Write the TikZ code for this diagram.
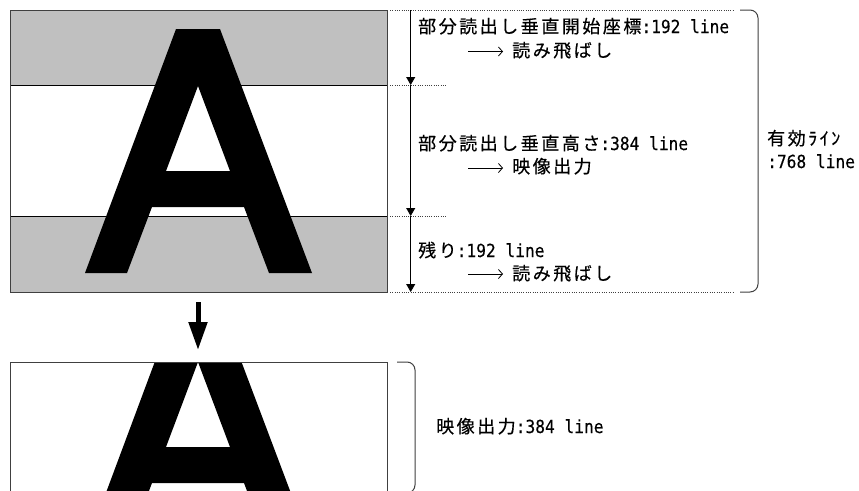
\documentclass[tikz,border=0pt]{standalone}
\usepackage{fontspec}
\usetikzlibrary{arrows.meta}
\newfontfamily\jpfont[LetterSpace=14,FakeBold=0.4]{Noto Sans CJK JP}
\newfontfamily\monofont[FakeStretch=0.9,FakeBold=0.3]{DejaVu Sans Mono}
\definecolor{bandgray}{HTML}{C0C0C0}
\definecolor{edgegray}{HTML}{404040}
\newcommand\lat[1]{{\fontsize{18}{20}\selectfont\monofont #1}}
\begin{document}
\begin{tikzpicture}[x=1pt,y=-1pt,
  lbl/.style={anchor=base west,inner sep=0pt,font=\fontsize{18}{20}\selectfont\jpfont},
  dotline/.style={draw=edgegray,line width=0.7pt,dash pattern=on 0.8pt off 1.5pt},
  vdim/.style={line width=0.8pt,-{Triangle[width=9pt,length=8pt]}},
  txtarrow/.style={line width=0.8pt,-{Straight Barb[length=4pt,width=9pt]}},
  brace/.style={draw=edgegray,line width=1pt,rounded corners=8pt},
  letterA/.style={fill=black,even odd rule}]
\useasboundingbox (0,0) rectangle (859,490);
\fill[white] (0,0) rectangle (859,490);
% top image
\fill[bandgray] (10,10) rectangle (387,85);
\fill[bandgray] (10,216) rectangle (387,292);
\fill[letterA] (85,273) -- (176,29) -- (220,29) -- (312,273) -- (269,273) -- (244,207) -- (152,207) -- (127,273) -- cycle
  (166,171) -- (198,86) -- (230,171) -- cycle;
\draw[line width=0.8pt] (10,85) -- (387,85) (10,216) -- (387,216);
\draw[edgegray,line width=1pt] (10,10) rectangle (387,292);
% dotted guides
\coordinate (g0a) at (390,10);  \coordinate (g0b) at (733,10);
\coordinate (g1a) at (390,85);  \coordinate (g1b) at (446,85);
\coordinate (g2a) at (390,216); \coordinate (g2b) at (446,216);
\coordinate (g3a) at (390,292); \coordinate (g3b) at (733,292);
\draw[dotline] (g0a) -- (g0b) (g1a) -- (g1b) (g2a) -- (g2b) (g3a) -- (g3b);
% dimension arrows
\coordinate (d0) at (410.7,10);
\coordinate (d1) at (410.7,85);
\coordinate (d2) at (410.7,216);
\coordinate (d3) at (410.7,292);
\draw[vdim] (d0) -- (d1);
\draw[vdim] (d1) -- (d2);
\draw[vdim] (d2) -- (d3);
% labels
\node[lbl] (t1) at (418,33) {部分読出し垂直開始座標\lat{:192 line}};
\node[lbl] (t2) at (512,57) {読み飛ばし};
\node[lbl] (t3) at (418,150) {部分読出し垂直高さ\lat{:384 line}};
\node[lbl] (t4) at (512,173) {映像出力};
\node[lbl] (t5) at (418,257) {残り\lat{:192 line}};
\node[lbl] (t6) at (512,280) {読み飛ばし};
\coordinate (a2) at (468,51.5); \coordinate (a4) at (468,168); \coordinate (a6) at (468,274);
\draw[txtarrow] (a2) -- ++(35,0);
\draw[txtarrow] (a4) -- ++(35,0);
\draw[txtarrow] (a6) -- ++(35,0);
% right brace
\draw[brace] (740,10) -- (758,10) -- (758,292) -- (740,292);
\node[lbl] (t7) at (767,145) {有効ﾗｲﾝ};
\node[lbl] (t8) at (767,168) {\lat{:768 line}};
% big arrow
\coordinate (b0) at (198,302);
\coordinate (b1) at (198,350);
\draw[line width=5pt,-{Triangle[width=18pt,length=28pt]}] (b0) -- (b1);
% bottom image
\begin{scope}
\clip (10,362) rectangle (387,495);
\fill[letterA,shift={(0,276)}] (85,273) -- (176,29) -- (220,29) -- (312,273) -- (269,273) -- (244,207) -- (152,207) -- (127,273) -- cycle
  (166,171) -- (198,86) -- (230,171) -- cycle;
\end{scope}
\draw[edgegray,line width=1pt] (10,495) -- (10,362) -- (387,362) -- (387,495);
\draw[brace] (397,362) -- (415,362) -- (415,493) -- (397,493);
\node[lbl] (t9) at (436,433) {映像出力\lat{:384 line}};
\end{tikzpicture}
\end{document}
